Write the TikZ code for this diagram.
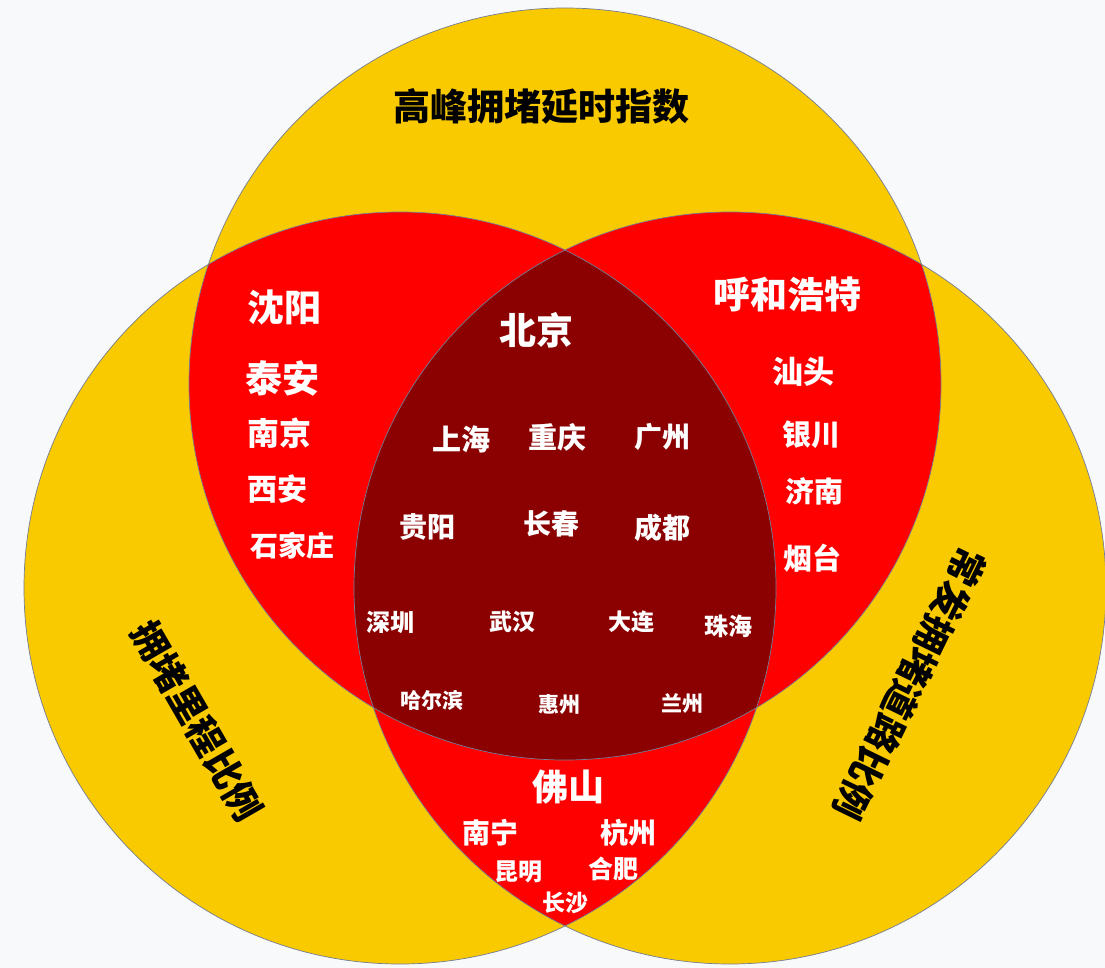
\documentclass[tikz,border=0pt]{standalone}
\usepackage{fontspec}
\setmainfont{Noto Sans CJK SC}
\usetikzlibrary{calc}

\definecolor{bgcol}{RGB}{248,249,250}
\definecolor{setyellow}{RGB}{250,202,0}
\definecolor{pairred}{RGB}{254,0,0}
\definecolor{coredark}{RGB}{139,0,0}
\definecolor{rimgray}{RGB}{115,125,150}
\newcommand{\vennr}{376pt}

\begin{document}
\begin{tikzpicture}[
  x=1pt,y=-1pt,
  city/.style={text=white,inner sep=0pt,font=\bfseries\fontsize{#1}{#1}\selectfont},
  setname/.style={text=black,inner sep=0pt,font=\bfseries\fontsize{37}{37}\selectfont},
  rim/.style={draw=rimgray,line width=0.7pt}
]

\fill[bgcol] (0,0) rectangle (1105,968);
\useasboundingbox (0,0) rectangle (1105,968);

\coordinate (T) at (565,384);
\coordinate (L) at (400,588);
\coordinate (R) at (730,588);

% the three sets
\fill[setyellow] (T) circle[radius=\vennr];
\fill[setyellow] (L) circle[radius=\vennr];
\fill[setyellow] (R) circle[radius=\vennr];

% pairwise overlaps
\begin{scope}
\clip (T) circle[radius=\vennr];
\fill[pairred] (L) circle[radius=\vennr];
\fill[pairred] (R) circle[radius=\vennr];
\end{scope}
\begin{scope}
\clip (L) circle[radius=\vennr];
\fill[pairred] (R) circle[radius=\vennr];
\end{scope}

% all three
\begin{scope}
\clip (T) circle[radius=\vennr];
\clip (L) circle[radius=\vennr];
\fill[coredark] (R) circle[radius=\vennr];
\end{scope}

\draw[rim] (T) circle[radius=\vennr];
\draw[rim] (L) circle[radius=\vennr];
\draw[rim] (R) circle[radius=\vennr];

% set names
\node[setname] (delay) at (541,106) {高峰拥堵延时指数};
\node[setname,rotate=-60] (mileage) at (197,721) {拥堵里程比例};
\node[setname,rotate=-116] (roads) at (910,684) {常发拥堵道路比例};

% top and left
\node[city=37] (shenyang) at (284,307) {沈阳};
\node[city=37] (taian) at (282,378) {泰安};
\node[city=32] (nanjing) at (279,433) {南京};
\node[city=30] (xian) at (277,489) {西安};
\node[city=28] (shijiazhuang) at (292,546) {石家庄};

% top and right
\node[city=37] (huhehaote) at (787,294) {呼和浩特};
\node[city=31] (shantou) at (803,372) {汕头};
\node[city=29] (yinchuan) at (811,435) {银川};
\node[city=29] (jinan) at (814,491) {济南};
\node[city=29] (yantai) at (812,558) {烟台};

% all three
\node[city=37] (beijing) at (536,330) {北京};
\node[city=29] (shanghai) at (461,439) {上海};
\node[city=29] (chongqing) at (557,437) {重庆};
\node[city=28] (guangzhou) at (662,437) {广州};
\node[city=28] (guiyang) at (427,527) {贵阳};
\node[city=28] (changchun) at (551,524) {长春};
\node[city=28] (chengdu) at (662,528) {成都};
\node[city=24] (shenzhen) at (390,622) {深圳};
\node[city=23] (wuhan) at (512,622) {武汉};
\node[city=23] (dalian) at (631,622) {大连};
\node[city=24] (zhuhai) at (728,626) {珠海};
\node[city=21] (haerbin) at (432,700) {哈尔滨};
\node[city=21] (huizhou) at (559,705) {惠州};
\node[city=21] (lanzhou) at (682,704) {兰州};

% left and right
\node[city=36] (foshan) at (568,787) {佛山};
\node[city=28] (nanning) at (490,833) {南宁};
\node[city=28] (hangzhou) at (628,833) {杭州};
\node[city=24] (kunming) at (518,872) {昆明};
\node[city=25] (hefei) at (613,869) {合肥};
\node[city=23] (changsha) at (565,903) {长沙};

\end{tikzpicture}
\end{document}
